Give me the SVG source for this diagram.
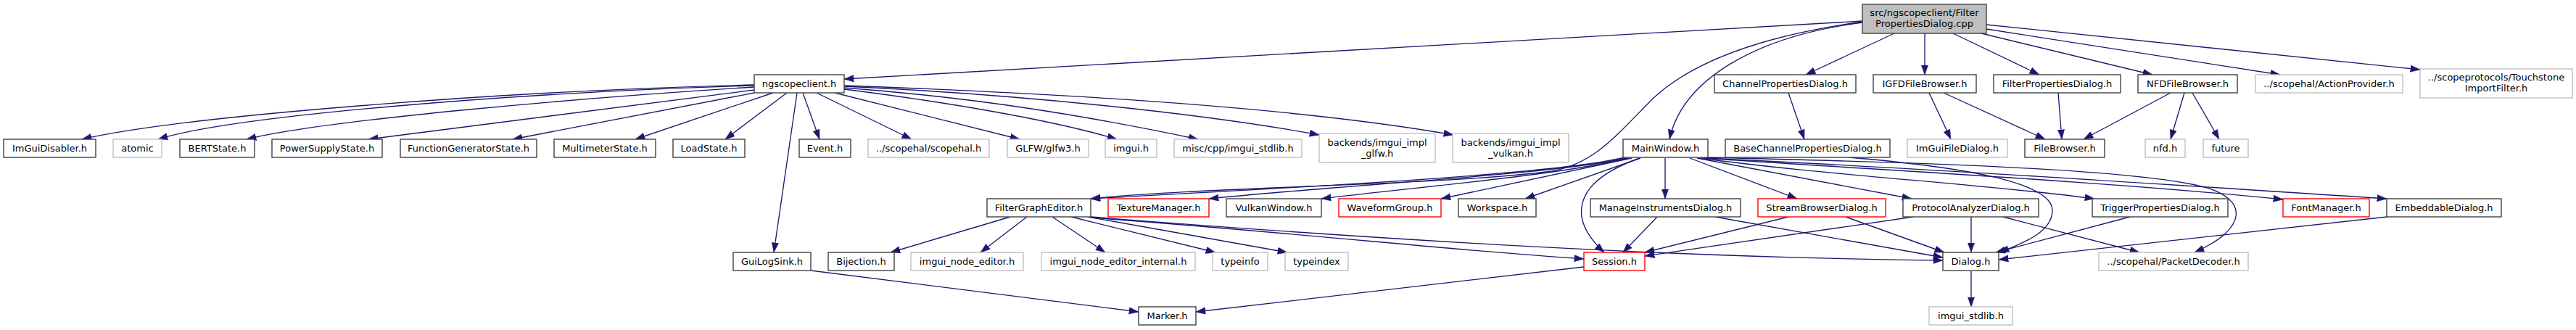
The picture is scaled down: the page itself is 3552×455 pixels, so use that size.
<svg xmlns="http://www.w3.org/2000/svg" width="3552" height="455" viewBox="0 0 3552 455">
<style>
.n rect{fill:#ffffff;stroke:#404040;stroke-width:1.4}
.n.g rect{stroke:#bfbfbf}
.n.r rect{stroke:#ff0000}
.n.root rect{fill:#bfbfbf}
text{font-family:'DejaVu Sans','Liberation Sans',sans-serif;font-size:13px;text-anchor:middle;fill:#000000}
#edges path{fill:none;stroke:#191970;stroke-width:1.33;marker-end:url(#arr)}
</style>
<defs>
<marker id="arr" markerUnits="userSpaceOnUse" markerWidth="14" markerHeight="10" refX="13.3" refY="4.7" orient="auto">
<path d="M0,0 L13.3,4.7 L0,9.4 z" fill="#191970" stroke="#191970" stroke-width="0.5"/>
</marker>
</defs>
<rect width="3552" height="455" fill="#ffffff"/>
<g id="edges">
<path d="M2568,29 L1164,109"/>
<path d="M2568,31 C2420,50 2320,110 2302,192"/>
<path d="M2568,30 C2440,48 2340,80 2280,135 C2230,185 2200,225 2140,236 C2000,255 1650,258 1504,274"/>
<path d="M2612,46 L2490,103"/>
<path d="M2654,46 L2654,103"/>
<path d="M2693,46 L2812,103"/>
<path d="M2732,46 L2968,103"/>
<path d="M2739,40 L3144,103"/>
<path d="M2739,34 L3337,96"/>
<path d="M1040,117 C700,125 250,160 113,192"/>
<path d="M1040,118 C700,128 320,160 218,192"/>
<path d="M1040,120 C800,135 450,165 340,192"/>
<path d="M1040,124 L508,192"/>
<path d="M1040,128 L707,192"/>
<path d="M1066,128 L876,192"/>
<path d="M1085,128 L1000,192"/>
<path d="M1107,128 L1130,192"/>
<path d="M1099,128 L1067,348"/>
<path d="M1126,128 L1257,192"/>
<path d="M1151,128 L1406,192"/>
<path d="M1164,123 C1300,140 1450,165 1540,192"/>
<path d="M1164,121 C1350,135 1500,160 1652,192"/>
<path d="M1164,119 C1400,130 1650,155 1819,186"/>
<path d="M1164,118 C1500,130 1800,150 2004,186"/>
<path d="M2240,217 C2150,240 1800,258 1504,274"/>
<path d="M2242,218 C2150,240 1850,255 1667,274"/>
<path d="M2245,218 C2150,242 1950,258 1822,274"/>
<path d="M2250,218 L1987,274"/>
<path d="M2262,218 L2103,274"/>
<path d="M2261,218 C2170,250 2160,300 2212,348"/>
<path d="M2296,218 L2296,274"/>
<path d="M2330,218 L2478,274"/>
<path d="M2340,218 L2636,274"/>
<path d="M2345,218 C2500,240 2750,255 2888,274"/>
<path d="M2350,218 C2600,235 2900,250 3148,275"/>
<path d="M2352,218 C2650,232 3000,255 3291,274"/>
<path d="M2352,217 C2700,225 2950,235 3040,258 C3100,275 3100,315 3026,348"/>
<path d="M2550,217 C2700,230 2830,250 2830,290 C2830,320 2790,335 2757,348"/>
<path d="M2466,128 L2488,192"/>
<path d="M2660,128 L2690,192"/>
<path d="M2680,128 L2820,192"/>
<path d="M2838,128 L2843,192"/>
<path d="M2993,128 L2873,192"/>
<path d="M3012,128 L2993,192"/>
<path d="M3023,128 L3060,192"/>
<path d="M1393,299 L1228,348"/>
<path d="M1416,299 L1352,348"/>
<path d="M1451,299 L1524,348"/>
<path d="M1477,299 L1676,348"/>
<path d="M1500,299 L1775,348"/>
<path d="M1504,300 C1800,322 2000,345 2184,357"/>
<path d="M1504,299 C1900,330 2300,355 2679,359"/>
<path d="M2285,299 L2238,348"/>
<path d="M2365,299 L2679,355"/>
<path d="M2466,299 L2268,348"/>
<path d="M2545,299 L2681,348"/>
<path d="M2638,299 L2268,353"/>
<path d="M2718,299 L2718,348"/>
<path d="M2762,299 L2950,348"/>
<path d="M2937,299 L2752,348"/>
<path d="M3291,299 L2756,358"/>
<path d="M2718,374 L2718,423"/>
<path d="M1118,373 L1570,430"/>
<path d="M2184,368 L1649,430"/>
</g>
<g id="root" class="n root"><rect x="2568" y="6" width="171" height="40"/><text x="2653.5" y="22">src/ngscopeclient/Filter</text><text x="2653.5" y="37">PropertiesDialog.cpp</text></g>
<g id="ngscopeclient_h" class="n"><rect x="1040" y="103" width="124" height="25"/><text x="1102" y="119.5">ngscopeclient.h</text></g>
<g id="ChannelPropertiesDialog_h" class="n"><rect x="2364" y="103" width="195" height="25"/><text x="2461.5" y="119.5">ChannelPropertiesDialog.h</text></g>
<g id="IGFDFileBrowser_h" class="n"><rect x="2583" y="103" width="142" height="25"/><text x="2654" y="119.5">IGFDFileBrowser.h</text></g>
<g id="FilterPropertiesDialog_h" class="n"><rect x="2749" y="103" width="175" height="25"/><text x="2836.5" y="119.5">FilterPropertiesDialog.h</text></g>
<g id="NFDFileBrowser_h" class="n"><rect x="2948" y="103" width="137" height="25"/><text x="3016.5" y="119.5">NFDFileBrowser.h</text></g>
<g id="ActionProvider_h" class="n g"><rect x="3110" y="103" width="203" height="25"/><text x="3211.5" y="119.5">../scopehal/ActionProvider.h</text></g>
<g id="TouchstoneImportFilter_h" class="n g"><rect x="3337" y="95" width="210" height="40"/><text x="3442" y="111">../scopeprotocols/Touchstone</text><text x="3442" y="126">ImportFilter.h</text></g>
<g id="ImGuiDisabler_h" class="n"><rect x="5" y="192" width="127" height="25"/><text x="68.5" y="208.5">ImGuiDisabler.h</text></g>
<g id="atomic" class="n g"><rect x="156" y="192" width="67" height="25"/><text x="189.5" y="208.5">atomic</text></g>
<g id="BERTState_h" class="n"><rect x="248" y="192" width="103" height="25"/><text x="299.5" y="208.5">BERTState.h</text></g>
<g id="PowerSupplyState_h" class="n"><rect x="375" y="192" width="152" height="25"/><text x="451" y="208.5">PowerSupplyState.h</text></g>
<g id="FunctionGeneratorState_h" class="n"><rect x="552" y="192" width="188" height="25"/><text x="646" y="208.5">FunctionGeneratorState.h</text></g>
<g id="MultimeterState_h" class="n"><rect x="764" y="192" width="140" height="25"/><text x="834" y="208.5">MultimeterState.h</text></g>
<g id="LoadState_h" class="n"><rect x="928" y="192" width="99" height="25"/><text x="977.5" y="208.5">LoadState.h</text></g>
<g id="Event_h" class="n"><rect x="1102" y="192" width="71" height="25"/><text x="1137.5" y="208.5">Event.h</text></g>
<g id="scopehal_h" class="n g"><rect x="1197" y="192" width="167" height="25"/><text x="1280.5" y="208.5">../scopehal/scopehal.h</text></g>
<g id="glfw3_h" class="n g"><rect x="1389" y="192" width="112" height="25"/><text x="1445" y="208.5">GLFW/glfw3.h</text></g>
<g id="imgui_h" class="n g"><rect x="1524" y="192" width="71" height="25"/><text x="1559.5" y="208.5">imgui.h</text></g>
<g id="misc_imgui_stdlib_h" class="n g"><rect x="1619" y="192" width="176" height="25"/><text x="1707" y="208.5">misc/cpp/imgui_stdlib.h</text></g>
<g id="imgui_impl_glfw_h" class="n g"><rect x="1819" y="184" width="160" height="40"/><text x="1899" y="200.5">backends/imgui_impl</text><text x="1899" y="215.5">_glfw.h</text></g>
<g id="imgui_impl_vulkan_h" class="n g"><rect x="2003" y="184" width="160" height="40"/><text x="2083" y="200.5">backends/imgui_impl</text><text x="2083" y="215.5">_vulkan.h</text></g>
<g id="MainWindow_h" class="n"><rect x="2238" y="192" width="117" height="25"/><text x="2296.5" y="208.5">MainWindow.h</text></g>
<g id="BaseChannelPropertiesDialog_h" class="n"><rect x="2379" y="192" width="227" height="25"/><text x="2492.5" y="208.5">BaseChannelPropertiesDialog.h</text></g>
<g id="ImGuiFileDialog_h" class="n g"><rect x="2630" y="192" width="138" height="25"/><text x="2699" y="208.5">ImGuiFileDialog.h</text></g>
<g id="FileBrowser_h" class="n"><rect x="2792" y="192" width="110" height="25"/><text x="2847" y="208.5">FileBrowser.h</text></g>
<g id="nfd_h" class="n g"><rect x="2958" y="192" width="55" height="25"/><text x="2985.5" y="208.5">nfd.h</text></g>
<g id="future" class="n g"><rect x="3038" y="192" width="62" height="25"/><text x="3069" y="208.5">future</text></g>
<g id="FilterGraphEditor_h" class="n"><rect x="1361" y="274" width="143" height="25"/><text x="1432.5" y="290.5">FilterGraphEditor.h</text></g>
<g id="TextureManager_h" class="n r"><rect x="1528" y="274" width="139" height="25"/><text x="1597.5" y="290.5">TextureManager.h</text></g>
<g id="VulkanWindow_h" class="n"><rect x="1691" y="274" width="131" height="25"/><text x="1756.5" y="290.5">VulkanWindow.h</text></g>
<g id="WaveformGroup_h" class="n r"><rect x="1846" y="274" width="141" height="25"/><text x="1916.5" y="290.5">WaveformGroup.h</text></g>
<g id="Workspace_h" class="n"><rect x="2011" y="274" width="107" height="25"/><text x="2064.5" y="290.5">Workspace.h</text></g>
<g id="ManageInstrumentsDialog_h" class="n"><rect x="2193" y="274" width="207" height="25"/><text x="2296.5" y="290.5">ManageInstrumentsDialog.h</text></g>
<g id="StreamBrowserDialog_h" class="n r"><rect x="2424" y="274" width="176" height="25"/><text x="2512" y="290.5">StreamBrowserDialog.h</text></g>
<g id="ProtocolAnalyzerDialog_h" class="n"><rect x="2624" y="274" width="187" height="25"/><text x="2717.5" y="290.5">ProtocolAnalyzerDialog.h</text></g>
<g id="TriggerPropertiesDialog_h" class="n"><rect x="2885" y="274" width="187" height="25"/><text x="2978.5" y="290.5">TriggerPropertiesDialog.h</text></g>
<g id="FontManager_h" class="n r"><rect x="3148" y="274" width="119" height="25"/><text x="3207.5" y="290.5">FontManager.h</text></g>
<g id="EmbeddableDialog_h" class="n"><rect x="3291" y="274" width="158" height="25"/><text x="3370" y="290.5">EmbeddableDialog.h</text></g>
<g id="GuiLogSink_h" class="n"><rect x="1011" y="348" width="107" height="25"/><text x="1064.5" y="364.5">GuiLogSink.h</text></g>
<g id="Bijection_h" class="n"><rect x="1142" y="348" width="91" height="25"/><text x="1187.5" y="364.5">Bijection.h</text></g>
<g id="imgui_node_editor_h" class="n g"><rect x="1256" y="348" width="155" height="25"/><text x="1333.5" y="364.5">imgui_node_editor.h</text></g>
<g id="imgui_node_editor_internal_h" class="n g"><rect x="1436" y="348" width="212" height="25"/><text x="1542" y="364.5">imgui_node_editor_internal.h</text></g>
<g id="typeinfo" class="n g"><rect x="1672" y="348" width="76" height="25"/><text x="1710" y="364.5">typeinfo</text></g>
<g id="typeindex" class="n g"><rect x="1772" y="348" width="87" height="25"/><text x="1815.5" y="364.5">typeindex</text></g>
<g id="Session_h" class="n r"><rect x="2184" y="348" width="84" height="25"/><text x="2226" y="364.5">Session.h</text></g>
<g id="Dialog_h" class="n"><rect x="2679" y="348" width="77" height="25"/><text x="2717.5" y="364.5">Dialog.h</text></g>
<g id="PacketDecoder_h" class="n g"><rect x="2894" y="348" width="206" height="25"/><text x="2997" y="364.5">../scopehal/PacketDecoder.h</text></g>
<g id="Marker_h" class="n"><rect x="1570" y="423" width="79" height="25"/><text x="1609.5" y="439.5">Marker.h</text></g>
<g id="imgui_stdlib_h" class="n g"><rect x="2660" y="423" width="115" height="25"/><text x="2717.5" y="439.5">imgui_stdlib.h</text></g>
</svg>
